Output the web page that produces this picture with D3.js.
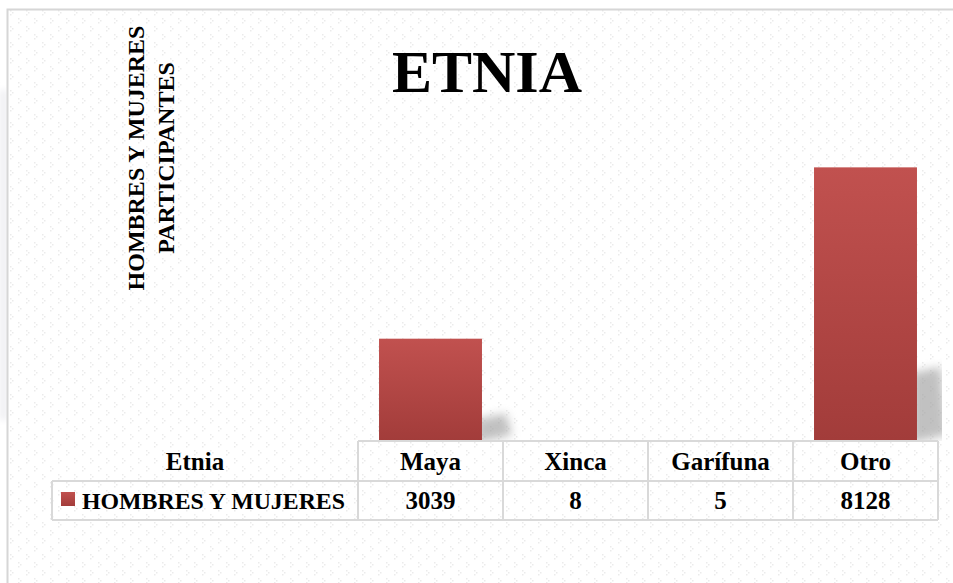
<!DOCTYPE html>
<html>
<head>
<meta charset="utf-8">
<script src="https://cdn.jsdelivr.net/npm/d3@7"></script>
<style>
  body { margin: 0; background: #fff; }
  svg { display: block; }
</style>
</head>
<body>
<div class="chart"></div>
<script>
const categories = ["Maya", "Xinca", "Garífuna", "Otro"];
const values = [3039, 8, 5, 8128];
const seriesName = "HOMBRES Y MUJERES";
const headerLabel = "Etnia";
const title = "ETNIA";
const axisTitle = ["HOMBRES Y MUJERES", "PARTICIPANTES"];

const width = 953;
const height = 583;
const font = "'Liberation Serif', 'Times New Roman', serif";

const svg = d3
  .select(".chart")
  .append("svg")
  .attr("width", width)
  .attr("height", height);

const defs = svg.append("defs");

// faint dotted background texture
const pat = defs
  .append("pattern")
  .attr("id", "dots")
  .attr("width", 16)
  .attr("height", 16)
  .attr("patternUnits", "userSpaceOnUse");
[[2, 2], [4, 4], [2, 6], [10, 10], [12, 12], [10, 14]].forEach(([x, y]) => {
  pat.append("rect").attr("x", x).attr("y", y).attr("width", 1.5).attr("height", 1.5).attr("fill", "#ebebeb");
});

const grad = defs
  .append("linearGradient")
  .attr("id", "barFill")
  .attr("x1", 0).attr("y1", 0).attr("x2", 0).attr("y2", 1);
grad.append("stop").attr("offset", "0%").attr("stop-color", "#c1514f");
grad.append("stop").attr("offset", "100%").attr("stop-color", "#a23c3a");

defs
  .append("filter")
  .attr("id", "shadowBlur")
  .attr("x", "-50%").attr("y", "-50%").attr("width", "200%").attr("height", "200%")
  .append("feGaussianBlur")
  .attr("stdDeviation", 5);

defs
  .append("filter")
  .attr("id", "edgeBlur")
  .attr("x", "-200%").attr("width", "500%")
  .append("feGaussianBlur")
  .attr("stdDeviation", 3);

defs.append("clipPath")
  .attr("id", "plotClip")
  .append("rect")
  .attr("x", 0).attr("y", 0).attr("width", 942).attr("height", 441);

// frame
svg.append("rect").attr("x", 0).attr("y", 90).attr("width", 7).attr("height", 330)
  .attr("fill", "#eeeef2").attr("filter", "url(#edgeBlur)");
svg.append("rect").attr("x", 7).attr("y", 9).attr("width", width).attr("height", height)
  .attr("fill", "#fff");
svg.append("rect").attr("x", 8).attr("y", 10).attr("width", width).attr("height", height)
  .attr("fill", "url(#dots)");
svg.append("path")
  .attr("d", `M7.5,${height} V9.5 H${width}`)
  .attr("fill", "none").attr("stroke", "#d6d6d6").attr("stroke-width", 2);

// scales
const x = d3.scaleBand()
  .domain(categories)
  .range([358, 938])
  .paddingInner(0.29)
  .paddingOuter(0.145);

const y = d3.scaleLinear()
  .domain([0, 9000])
  .range([441, 138]);

// shadows behind bars (only visible for tall bars)
svg.append("g")
  .attr("clip-path", "url(#plotClip)")
  .selectAll("path")
  .data(values.map((v, i) => ({ v, c: categories[i] })).filter((d) => y(0) - y(d.v) > 20))
  .join("path")
  .attr("d", (d) => {
    const x0 = x(d.c) + x.bandwidth() - 6;
    const h = (y(0) - y(d.v)) * 0.27;
    const top = y(0) - h;
    return `M${x0},${top + 6} L${x0 + 30},${top} L${x0 + 36},${y(0) - 6} L${x0},${y(0) + 2} Z`;
  })
  .attr("fill", "#a0a0a0")
  .attr("opacity", 0.65)
  .attr("filter", "url(#shadowBlur)");

// bars
svg.append("g")
  .selectAll("rect")
  .data(values)
  .join("rect")
  .attr("x", (d, i) => x(categories[i]))
  .attr("y", (d) => y(d))
  .attr("width", x.bandwidth())
  .attr("height", (d) => y(0) - y(d))
  .attr("fill", "url(#barFill)");

// title
svg.append("text")
  .attr("x", 487)
  .attr("y", 92)
  .attr("text-anchor", "middle")
  .style("font-family", font)
  .style("font-weight", "bold")
  .style("font-size", "60px")
  .text(title);

// axis title
const axisLabel = svg.append("text")
  .attr("transform", "translate(151,158) rotate(-90)")
  .attr("text-anchor", "middle")
  .style("font-family", font)
  .style("font-weight", "bold")
  .style("font-size", "24px");
axisTitle.forEach((t, i) => {
  axisLabel.append("tspan")
    .attr("x", 0)
    .attr("y", i * 30 - 7)
    .text(t);
});

// data table
const rowTop = 441;
const rowMid = 481;
const rowBottom = 520;
const labelLeft = 52;
const lineColor = "#d9d9d9";
const table = svg.append("g")
  .attr("stroke", lineColor)
  .attr("stroke-width", 2)
  .attr("fill", "none");

table.append("line").attr("x1", 358).attr("x2", 938).attr("y1", rowTop).attr("y2", rowTop);
table.append("line").attr("x1", labelLeft).attr("x2", 938).attr("y1", rowMid).attr("y2", rowMid);
table.append("line").attr("x1", labelLeft).attr("x2", 938).attr("y1", rowBottom).attr("y2", rowBottom);
table.append("line").attr("x1", labelLeft).attr("x2", labelLeft).attr("y1", rowMid).attr("y2", rowBottom);

const step = x.step();
const colEdges = categories.map((c) => x(c) - x.paddingInner() * step / 2).concat([938]);
table.selectAll(".col")
  .data(colEdges)
  .join("line")
  .attr("x1", (d) => d).attr("x2", (d) => d)
  .attr("y1", rowTop).attr("y2", rowBottom);

const cellText = svg.append("g")
  .attr("text-anchor", "middle")
  .style("font-family", font)
  .style("font-weight", "bold")
  .style("font-size", "25px");

cellText.append("text")
  .attr("x", 195)
  .attr("y", 470)
  .text(headerLabel);

cellText.selectAll(".cat")
  .data(categories)
  .join("text")
  .attr("x", (d) => x(d) + x.bandwidth() / 2)
  .attr("y", 470)
  .text((d) => d);

cellText.selectAll(".val")
  .data(values)
  .join("text")
  .attr("x", (d, i) => x(categories[i]) + x.bandwidth() / 2)
  .attr("y", 509)
  .text((d) => d);

// legend key + series name
svg.append("rect")
  .attr("x", 61).attr("y", 492)
  .attr("width", 14).attr("height", 14)
  .attr("fill", "url(#barFill)");
svg.append("text")
  .attr("x", 82)
  .attr("y", 509)
  .attr("textLength", 263)
  .attr("lengthAdjust", "spacingAndGlyphs")
  .style("font-family", font)
  .style("font-weight", "bold")
  .style("font-size", "24px")
  .text(seriesName);
</script>
</body>
</html>
